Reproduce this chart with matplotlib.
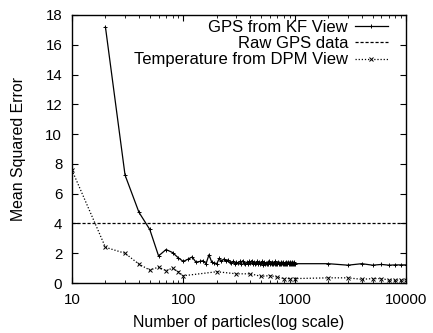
import matplotlib
matplotlib.use("Agg")
import matplotlib.pyplot as plt

plt.rcParams['font.family'] = ['Liberation Sans', 'DejaVu Sans']

# GPS from KF View
gps_x = [20, 30, 40, 50,
         60, 70, 80, 90, 100, 110, 120, 130, 140, 150, 160, 170, 180, 190,
         200, 210, 220, 230, 240, 250, 260, 270, 280, 290,
         300, 310, 320, 330, 340, 350, 360, 370, 380, 390,
         400, 410, 420, 430, 440, 450, 460, 470, 480, 490,
         500, 510, 520, 530, 540, 550, 560, 570, 580, 590,
         600, 610, 620, 630, 640, 650, 660, 670, 680, 690,
         700, 710, 720, 730, 740, 750, 760, 770, 780, 790,
         800, 810, 820, 830, 840, 850, 860, 870, 880, 890,
         900, 910, 920, 930, 940, 950, 960, 970, 980, 990,
         1000, 2000, 3000, 4000, 5000, 6000, 7000, 8000, 9000, 10000]
gps_y = [17.2, 7.25, 4.75, 3.6,
         1.82, 2.25, 2.05, 1.70, 1.45, 1.60, 1.75, 1.40, 1.45, 1.50, 1.30, 1.90, 1.40, 1.35,
         1.30, 1.65, 1.45, 1.60, 1.50, 1.55, 1.40, 1.35, 1.45, 1.30,
         1.40, 1.35, 1.45, 1.30, 1.50, 1.35, 1.25, 1.40, 1.30, 1.45,
         1.35, 1.50, 1.25, 1.40, 1.30, 1.35, 1.45, 1.25, 1.40, 1.30,
         1.35, 1.45, 1.20, 1.40, 1.30, 1.35, 1.25, 1.40, 1.30, 1.45,
         1.25, 1.35, 1.30, 1.40, 1.25, 1.35, 1.30, 1.45, 1.25, 1.35,
         1.30, 1.40, 1.25, 1.35, 1.30, 1.40, 1.25, 1.35, 1.30, 1.40,
         1.25, 1.35, 1.30, 1.40, 1.30, 1.35, 1.25, 1.40, 1.30, 1.35,
         1.25, 1.40, 1.30, 1.35, 1.25, 1.40, 1.30, 1.35, 1.25, 1.40,
         1.30, 1.30, 1.20, 1.30, 1.20, 1.25, 1.20, 1.22, 1.22, 1.22]

# Raw GPS data (constant)
raw_x = [10, 10000]
raw_y = [4.0, 4.0]

# Temperature from DPM View
temp_x = [10, 20, 30, 40, 50, 60, 70, 80, 90, 100,
          200, 300, 400, 500, 600, 700, 800, 900, 1000,
          2000, 3000, 4000, 5000, 6000, 7000, 8000, 9000, 10000]
temp_y = [7.6, 2.4, 2.0, 1.27, 0.87, 1.07, 0.83, 1.0, 0.76, 0.49,
          0.76, 0.62, 0.62, 0.45, 0.5, 0.4, 0.3, 0.3, 0.3,
          0.35, 0.35, 0.25, 0.3, 0.3, 0.2, 0.2, 0.2, 0.2]

labels = ["GPS from KF View", "Raw GPS data", "Temperature from DPM View"]

fig = plt.figure(figsize=(4.33, 3.33), dpi=100)
ax = fig.add_axes([0.166, 0.150, 0.772, 0.805])

ax.plot(gps_x, gps_y, color='black', lw=0.9, marker='+', ms=3.5, mew=0.7,
        label=labels[0])
ax.plot(raw_x, raw_y, color='black', lw=0.9, linestyle=(0, (2.5, 1.5)),
        label=labels[1])
ax.plot(temp_x, temp_y, color='black', lw=0.9, linestyle=(0, (1, 1.5)),
        marker='x', ms=3.2, mew=0.7, label=labels[2])

ax.set_xscale('log')
ax.set_xlim(10, 10000)
ax.set_ylim(0, 18)
ax.set_yticks(range(0, 19, 2))
ax.set_xticks([10, 100, 1000, 10000])
ax.set_xticklabels(['10', '100', '1000', '10000'])
ax.tick_params(which='both', direction='in', top=True, right=True,
               labelsize=10.8)
ax.tick_params(axis='x', pad=7)
ax.tick_params(axis='y', pad=7)
ax.tick_params(which='major', length=4)
ax.tick_params(which='minor', length=2.5)
ax.minorticks_on()
ax.yaxis.set_minor_locator(matplotlib.ticker.NullLocator())

ax.set_xlabel("Number of particles(log scale)", fontsize=11.4, labelpad=6)
ax.set_ylabel("Mean Squared Error", fontsize=11.4, labelpad=14)

ax.legend(loc='upper right', bbox_to_anchor=(0.946, 0.982), frameon=False,
          markerfirst=False, fontsize=12.0,
          handlelength=2.0, labelspacing=0.08, borderaxespad=0.0,
          borderpad=0.0, handletextpad=0.4)

for s in ax.spines.values():
    s.set_linewidth(1.0)

fig.savefig("out.png", dpi=100)
